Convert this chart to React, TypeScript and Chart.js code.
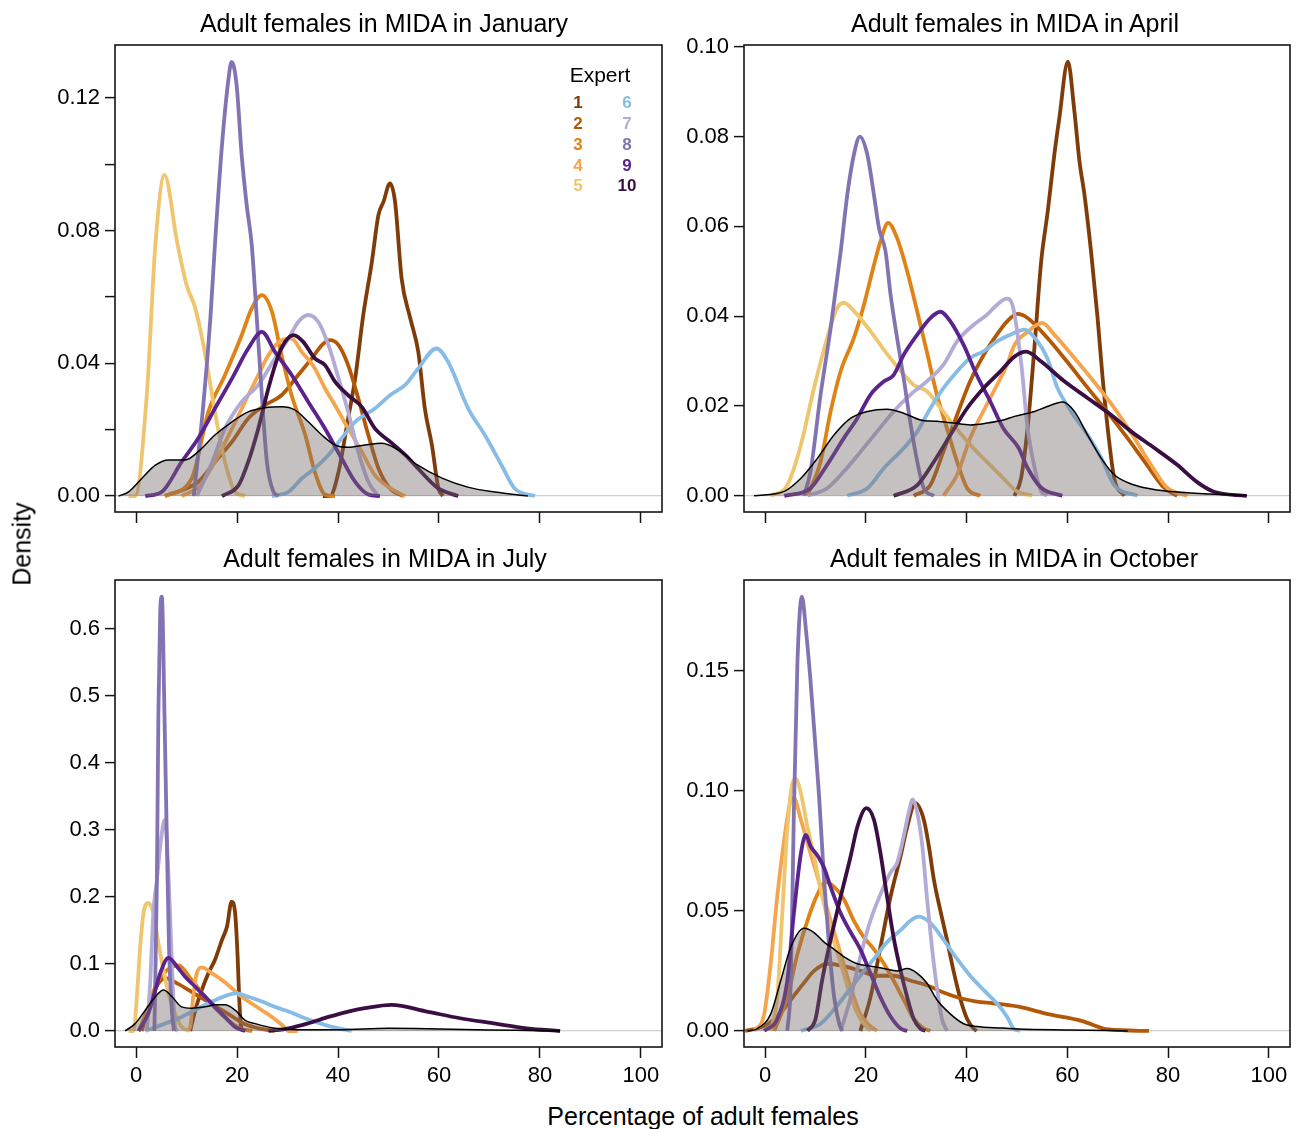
import React, { useEffect, useRef } from "react";
import { Chart, registerables } from "chart.js";

Chart.register(...registerables);

type Pt = [number, number];

const FONT = '"Liberation Sans", Arial, Helvetica, sans-serif';

// ---------------- data ----------------
const experts = ["1", "2", "3", "4", "5", "6", "7", "8", "9", "10"];
const expertColors = ["#7f3b08", "#b35806", "#e08214", "#f5a54e", "#efc56e", "#86bce6", "#b3abd5", "#8274b3", "#5b238c", "#3a0e43"];
const panelTitles = [
  "Adult females in MIDA in January",
  "Adult females in MIDA in April",
  "Adult females in MIDA in July",
  "Adult females in MIDA in October",
];
const xTicks = [0, 20, 40, 60, 80, 100];
const janYTicks = [0, 0.02, 0.04, 0.06, 0.08, 0.1, 0.12];
const janYLabels = [0, 0.04, 0.08, 0.12];
const aprYTicks = [0, 0.02, 0.04, 0.06, 0.08, 0.1];
const aprYLabels = [0, 0.02, 0.04, 0.06, 0.08, 0.1];
const julYTicks = [0, 0.1, 0.2, 0.3, 0.4, 0.5, 0.6];
const julYLabels = [0, 0.1, 0.2, 0.3, 0.4, 0.5, 0.6];
const octYTicks = [0, 0.05, 0.1, 0.15];
const octYLabels = [0, 0.05, 0.1, 0.15];

// January
const jan1: Pt[] = [[37,0],[38.4,0],[40.1,0.0073],[42.0,0.0234],[43.4,0.0355],[45.0,0.0546],[46.7,0.0706],[48.0,0.0847],[49.0,0.0887],[50.3,0.0943],[51.3,0.0887],[52.6,0.0656],[54.3,0.0537],[55.9,0.0435],[57.2,0.0264],[58.6,0.0154],[59.9,0.0023],[60.8,0]];
const jan2: Pt[] = [[5.7,0],[12.3,0.0043],[15.6,0.0103],[19.0,0.0164],[22.2,0.0234],[25.5,0.0274],[28.8,0.0304],[32.1,0.0365],[34.8,0.0415],[36.8,0.0455],[38.4,0.047],[40.1,0.0455],[42.0,0.0395],[44.0,0.0295],[46.0,0.0184],[48.0,0.0084],[50.3,0.0023],[53,0]];
const jan3: Pt[] = [[5.7,0],[11.0,0.0053],[14.3,0.0254],[17.6,0.0365],[20.9,0.0485],[22.9,0.0566],[24.9,0.0606],[26.9,0.0556],[28.8,0.0425],[30.8,0.0304],[33.5,0.0184],[35.4,0.0073],[37.4,0.0005],[39.4,0]];
const jan4: Pt[] = [[9.0,0],[12.5,0.003],[15.6,0.0103],[19.0,0.0204],[22.2,0.0304],[24.2,0.0365],[26.2,0.0425],[28.8,0.047],[30.8,0.0475],[32.8,0.0435],[35.4,0.0385],[37.4,0.0325],[39.4,0.0274],[42.0,0.0204],[44.7,0.0134],[47.3,0.0063],[50.3,0.0024],[53.3,0]];
const jan5: Pt[] = [[-1.5,0],[-0.2,0],[2.1,0.0305],[3.8,0.0757],[5.6,0.0968],[8.1,0.0767],[10.0,0.0636],[11.7,0.0567],[13.7,0.0425],[15.6,0.0254],[17.6,0.0103],[19.6,0.0013],[21.6,0]];
const jan6: Pt[] = [[26.9,0],[30.2,0.0013],[32.8,0.0053],[35.4,0.0084],[38.1,0.0124],[40.7,0.0174],[43.4,0.0224],[47.3,0.0264],[50.3,0.0304],[53.3,0.0335],[55.9,0.0385],[59.5,0.0445],[61.8,0.0405],[65.8,0.0264],[69.1,0.0184],[72.4,0.0093],[75.0,0.0023],[79.0,0]];
const jan7: Pt[] = [[12.0,0],[15.0,0.01],[17.6,0.0204],[20.9,0.0284],[24.2,0.0335],[27.5,0.0415],[30.2,0.0475],[32.1,0.0525],[34.1,0.0546],[36.1,0.0525],[38.1,0.0455],[40.1,0.0355],[42.0,0.0254],[44.0,0.0134],[46.0,0.0043],[48.0,0]];
const jan8: Pt[] = [[11.4,0],[13.3,0.0274],[14.7,0.0536],[15.6,0.0757],[17.0,0.1058],[18.3,0.1259],[18.9,0.1309],[19.9,0.1239],[20.9,0.1028],[21.9,0.0877],[22.9,0.0757],[23.6,0.0606],[24.9,0.0304],[25.9,0.0103],[27.2,0.0013],[28.2,0]];
const jan9: Pt[] = [[1.8,0],[5.1,0.0013],[9.0,0.0103],[12.3,0.0174],[15.6,0.0264],[19.0,0.0355],[22.2,0.0445],[24.9,0.0495],[27.5,0.0435],[30.8,0.0365],[34.1,0.0284],[37.4,0.0204],[40.7,0.0114],[43.4,0.0043],[46.0,0.0005],[48.3,0]];
const jan10: Pt[] = [[17.0,0],[20.3,0.0033],[22.2,0.0103],[24.2,0.0204],[26.2,0.0325],[28.2,0.0425],[29.5,0.0465],[31.2,0.0485],[33.1,0.0465],[35.4,0.0415],[37.4,0.0395],[39.4,0.0345],[42.0,0.0304],[44.7,0.0269],[47.3,0.0204],[50.3,0.0164],[53.3,0.0124],[55.8,0.0084],[59.8,0.0024],[63.8,0]];
const janAll: Pt[] = [[-3.5,0],[-1.5,0.0013],[1.1,0.0053],[3.8,0.0093],[6.4,0.0109],[9.7,0.0109],[12.3,0.0134],[15.6,0.0184],[19.0,0.0224],[22.2,0.0254],[25.5,0.0266],[28.8,0.0269],[31.5,0.0259],[34.1,0.0224],[36.8,0.0184],[39.4,0.0154],[42.0,0.0147],[45.3,0.0154],[48.7,0.0159],[51.9,0.0139],[55.8,0.0093],[60.6,0.0054],[65.7,0.0027],[71.1,0.0012],[77.6,0]];

// April
const apr1: Pt[] = [[49.5,0],[50.8,0.0039],[52.1,0.0151],[53.5,0.0336],[54.8,0.0522],[56.1,0.0633],[57.4,0.0759],[58.4,0.0841],[60.1,0.0967],[61.4,0.0856],[62.4,0.0745],[63.4,0.067],[64.7,0.0544],[66.0,0.0396],[67.0,0.0262],[68.0,0.0151],[69.3,0.0039],[71.3,0]];
const apr2: Pt[] = [[29.5,0],[32.8,0.0024],[35.4,0.0099],[38.1,0.018],[40.7,0.0255],[43.4,0.0314],[46.0,0.0359],[48.0,0.0388],[50.1,0.0405],[52.1,0.0396],[56.0,0.0352],[60.0,0.0298],[64.0,0.0241],[67.9,0.0187],[71.9,0.0129],[75.8,0.0069],[79.2,0.0018],[81.8,0]];
const apr3: Pt[] = [[8.4,0],[11.0,0.0076],[13.0,0.0188],[15.0,0.0278],[17.6,0.0351],[19.6,0.0425],[21.6,0.0514],[22.9,0.0567],[24.4,0.0608],[26.2,0.0574],[28.2,0.05],[30.2,0.041],[32.1,0.0321],[34.1,0.0225],[36.1,0.015],[38.1,0.0076],[40.1,0.0017],[42.7,0]];
const apr4: Pt[] = [[35.4,0],[38.1,0.0047],[40.7,0.0128],[44.7,0.0218],[48.0,0.0292],[49.5,0.0336],[52.1,0.0365],[55.0,0.0385],[57.4,0.0359],[61.4,0.0307],[65.3,0.0254],[69.3,0.0196],[73.3,0.0129],[76.6,0.0069],[79.8,0.0018],[83.8,0]];
const apr5: Pt[] = [[1.1,0],[4.4,0.0024],[7.1,0.0114],[9.7,0.024],[12.3,0.0351],[14.3,0.0418],[15.6,0.043],[17.6,0.0412],[20.9,0.0367],[24.2,0.0316],[26.9,0.0278],[29.5,0.0247],[32.1,0.0233],[34.8,0.0196],[37.4,0.0158],[40.7,0.0114],[44.0,0.0076],[47.3,0.0039],[50.0,0.001],[53,0]];
const apr6: Pt[] = [[16.3,0],[20.3,0.0017],[23.6,0.0062],[26.9,0.0099],[30.2,0.0143],[32.8,0.0195],[35.4,0.024],[38.1,0.0277],[40.7,0.0307],[43.4,0.0322],[46.0,0.0344],[48.7,0.0359],[51.5,0.037],[53.5,0.0352],[56.0,0.0307],[58.0,0.0241],[60.8,0.0187],[64.0,0.0136],[66.7,0.0085],[69.3,0.0024],[73.9,0]];
const apr7: Pt[] = [[8.4,0],[12.3,0.0017],[15.6,0.0054],[19.0,0.0099],[22.2,0.0143],[25.5,0.0188],[28.8,0.0225],[32.1,0.0255],[35.4,0.0292],[38.1,0.0344],[41.4,0.0381],[44.0,0.0403],[46.0,0.0425],[48.0,0.0439],[49.1,0.0425],[50.8,0.0299],[52.1,0.0151],[53.5,0.0062],[54.8,0.001],[56.0,0]];
const apr8: Pt[] = [[7.7,0],[9.0,0.0054],[11.0,0.0225],[13.0,0.0373],[15.0,0.0544],[16.3,0.067],[17.6,0.0759],[18.8,0.08],[20.3,0.0759],[21.6,0.067],[22.6,0.0596],[23.9,0.0544],[24.9,0.0448],[26.2,0.0351],[27.5,0.0262],[28.8,0.0165],[30.2,0.0076],[31.5,0.0017],[33.5,0]];
const apr9: Pt[] = [[3.8,0],[9.0,0.0017],[12.3,0.0069],[15.6,0.0128],[18.3,0.0173],[20.9,0.0225],[23.6,0.0255],[25.5,0.0269],[27.5,0.0314],[30.2,0.0359],[32.8,0.0396],[34.8,0.041],[36.8,0.0388],[39.4,0.0336],[42.0,0.0269],[44.7,0.021],[47.3,0.015],[50.3,0.0107],[52.1,0.0062],[54.8,0.0018],[59.0,0]];
const apr10: Pt[] = [[25.5,0],[30.2,0.0024],[33.5,0.0076],[36.8,0.0136],[40.1,0.0195],[43.4,0.024],[46.7,0.0277],[49.5,0.031],[51.8,0.0321],[54.8,0.0299],[59.4,0.0255],[64.0,0.0218],[68.7,0.018],[72.7,0.0143],[77.2,0.0107],[81.8,0.0069],[85.7,0.0031],[89.1,0.0009],[95.6,0]];
const aprAll: Pt[] = [[-2.2,0],[3.8,0.001],[7.1,0.0039],[10.4,0.0084],[13.7,0.0136],[17.0,0.0173],[20.3,0.0188],[24.2,0.0193],[27.5,0.0184],[30.8,0.0169],[34.1,0.0166],[37.4,0.0162],[40.7,0.0158],[44.0,0.0162],[47.3,0.0169],[49.5,0.0177],[53.5,0.0188],[56.0,0.0199],[59.1,0.0209],[61.4,0.0188],[64.0,0.0136],[66.7,0.0084],[69.3,0.0047],[73.3,0.0024],[77.8,0.0013],[83.8,0.0007],[95.6,0]];

// July
const jul1: Pt[] = [[10.7,0],[11.7,0.031],[13.0,0.061],[14.3,0.086],[15.6,0.106],[17.0,0.136],[18.0,0.156],[18.9,0.193],[19.6,0.176],[20.1,0.111],[20.4,0.051],[20.8,0.006],[21.3,0]];
const jul2: Pt[] = [[1.1,0],[3.1,0.051],[4.4,0.071],[5.7,0.079],[8.4,0.07],[11.7,0.055],[15.0,0.04],[18.3,0.025],[21.6,0.01],[24.9,0.003],[27.5,0]];
const jul3: Pt[] = [[0.5,0],[2.4,0.035],[4.0,0.07],[6.0,0.09],[8.4,0.098],[11.0,0.076],[14.3,0.045],[17.6,0.02],[20.9,0.003],[23,0]];
const jul4: Pt[] = [[10.0,0],[10.7,0.006],[11.3,0.051],[12.0,0.086],[13.0,0.095],[15.0,0.086],[17.0,0.076],[18.9,0.064],[20.9,0.051],[22.9,0.041],[24.9,0.031],[26.9,0.021],[28.9,0.009],[30.2,0],[32,0]];
const jul5: Pt[] = [[-1.5,0],[-0.5,0],[0.13,0.051],[0.8,0.126],[1.45,0.176],[2.4,0.191],[3.4,0.176],[4.4,0.131],[5.4,0.091],[6.4,0.056],[7.7,0.026],[9.0,0.006],[10.4,0]];
const jul6: Pt[] = [[1.8,0],[5.7,0.011],[9.0,0.021],[12.3,0.034],[15.6,0.046],[18.3,0.054],[19.9,0.056],[22.2,0.051],[24.9,0.044],[27.5,0.036],[30.2,0.029],[32.8,0.021],[35.4,0.014],[38.8,0.006],[42.7,0]];
const jul7: Pt[] = [[2.1,0],[2.8,0.076],[3.4,0.176],[4.1,0.225],[4.75,0.275],[5.4,0.31],[5.7,0.315],[6.3,0.25],[6.7,0.176],[7.2,0.076],[7.7,0.006],[8.2,0]];
const jul8: Pt[] = [[3.6,0],[4.1,0.225],[4.4,0.474],[4.75,0.623],[5.08,0.648],[5.6,0.474],[6.1,0.275],[6.5,0.126],[7.1,0.026],[7.5,0]];
const jul9: Pt[] = [[0.46,0],[2.4,0.026],[3.8,0.061],[4.75,0.086],[6.4,0.109],[8.1,0.096],[9.7,0.081],[11.7,0.066],[13.7,0.051],[15.6,0.036],[17.6,0.021],[19.6,0.006],[21.6,0]];
const jul10: Pt[] = [[26.2,0],[30.2,0.004],[34.1,0.0115],[38.1,0.021],[42.0,0.029],[45.3,0.034],[50.6,0.039],[57.6,0.029],[64.2,0.019],[70.8,0.0115],[77.4,0.004],[84.0,0]];
const julAll: Pt[] = [[-2.2,0],[-0.2,0.011],[1.8,0.031],[3.8,0.051],[5.4,0.061],[7.1,0.051],[9.0,0.036],[11.0,0.034],[13.7,0.036],[15.6,0.039],[17.6,0.039],[19.6,0.031],[21.6,0.016],[23.6,0.011],[27.5,0.004],[32,0.002],[40,0.002],[50,0.004],[60,0.003],[70,0.0015],[80,0.0005],[84,0]];

// October
const oct1: Pt[] = [[18.9,0],[20.9,0.014],[22.9,0.035],[24.9,0.056],[26.9,0.073],[28.2,0.085],[29.8,0.0949],[31.5,0.088],[32.5,0.077],[33.5,0.063],[34.8,0.05],[36.1,0.038],[37.4,0.025],[38.8,0.013],[40.1,0.005],[41.4,0.001],[42.0,0]];
const oct2: Pt[] = [[-4,0],[-0.2,0.002],[2.4,0.006],[5.1,0.013],[7.7,0.02],[9.7,0.025],[12.3,0.028],[15.6,0.027],[18.9,0.025],[22.2,0.023],[25.5,0.023],[28.8,0.021],[32.1,0.019],[35.4,0.016],[38.8,0.0136],[42.0,0.0122],[45.3,0.0115],[50.3,0.0101],[56.2,0.007],[62.8,0.0042],[68.2,0.0006],[76.2,0]];
const oct3: Pt[] = [[1.8,0],[4.4,0.014],[6.4,0.032],[8.4,0.046],[10.4,0.057],[12.0,0.062],[13.7,0.06],[15.6,0.055],[17.6,0.046],[19.6,0.039],[21.6,0.034],[23.6,0.028],[25.5,0.021],[27.5,0.013],[29.5,0.005],[31.5,0.001],[32.8,0]];
const oct4: Pt[] = [[-2.2,0],[-0.2,0.007],[1.1,0.028],[2.4,0.056],[3.8,0.08],[5.1,0.096],[5.7,0.097],[7.1,0.088],[9.0,0.074],[11.0,0.06],[13.0,0.046],[15.0,0.032],[17.0,0.018],[18.9,0.007],[20.9,0.002],[22.2,0]];
const oct5: Pt[] = [[1.1,0],[2.4,0.014],[3.4,0.049],[4.4,0.084],[5.4,0.103],[6.1,0.105],[7.1,0.099],[8.4,0.085],[9.7,0.073],[11.0,0.059],[13.0,0.042],[15.0,0.028],[17.0,0.014],[18.9,0.005],[20.9,0]];
const oct6: Pt[] = [[7.1,0],[11.0,0.003],[13.7,0.009],[16.3,0.016],[18.9,0.023],[21.6,0.03],[24.2,0.037],[26.9,0.042],[28.9,0.046],[30.5,0.0476],[32.8,0.045],[35.4,0.038],[38.1,0.03],[40.7,0.023],[43.4,0.017],[46.0,0.0115],[48.0,0.006],[49.3,0.001],[50.6,0]];
const oct7: Pt[] = [[15.0,0],[17.0,0.014],[18.9,0.031],[20.9,0.046],[22.9,0.057],[24.9,0.066],[26.2,0.07],[27.5,0.081],[28.5,0.091],[29.3,0.0965],[30.2,0.091],[31.2,0.077],[32.1,0.056],[33.1,0.035],[34.1,0.018],[35.1,0.005],[36.1,0]];
const oct8: Pt[] = [[4.4,0],[5.1,0.021],[5.7,0.091],[6.4,0.153],[7.3,0.181],[8.1,0.167],[9.0,0.146],[10.0,0.118],[10.7,0.098],[11.7,0.063],[12.7,0.035],[13.7,0.014],[14.7,0.003],[15.3,0]];
const oct9: Pt[] = [[-0.2,0],[2.4,0.005],[4.4,0.021],[5.7,0.049],[7.1,0.074],[8.1,0.0817],[9.0,0.077],[10.4,0.073],[11.7,0.068],[13.0,0.06],[15.0,0.049],[17.0,0.041],[18.9,0.034],[20.9,0.024],[22.9,0.014],[24.9,0.006],[26.9,0.001],[28.2,0]];
const oct10: Pt[] = [[8.4,0],[10.0,0.005],[11.3,0.021],[13.0,0.038],[15.0,0.056],[17.0,0.073],[18.3,0.085],[20.1,0.0928],[21.6,0.088],[22.9,0.074],[24.2,0.056],[25.5,0.039],[26.9,0.025],[28.2,0.014],[29.5,0.005],[30.8,0.001],[31.8,0]];
const octAll: Pt[] = [[-3.5,0],[-1.5,0.001],[1.1,0.007],[3.1,0.021],[5.1,0.035],[7.7,0.0428],[9.7,0.041],[11.7,0.037],[13.7,0.034],[15.6,0.031],[18.3,0.028],[20.9,0.027],[23.6,0.026],[26.2,0.025],[28.2,0.026],[30.2,0.024],[32.1,0.02],[34.1,0.013],[36.8,0.007],[39.4,0.003],[42.0,0.0018],[47.3,0.0012],[50.3,0.0008],[60,0.0004],[72,0]];

// ---------------- chart helpers ----------------
const boxPlugin = {
  id: "panelBox",
  afterDatasetsDraw(chart: any) {
    const { ctx, chartArea: a } = chart;
    ctx.save();
    ctx.strokeStyle = "#141414";
    ctx.lineWidth = 1.6;
    ctx.strokeRect(a.left, a.top, a.right - a.left, a.bottom - a.top);
    ctx.restore();
  },
};

type PanelDef = {
  curves: Pt[][];
  agg: Pt[];
  yMin: number;
  yMax: number;
  yTicks: number[];
  yLabels: number[];
  decimals: number;
  showX: boolean;
  left: number;
  top: number;
  width: number;
  height: number;
  yAxisW: number;
  xAxisH: number;
  padRight: number;
};

function Panel({ def }: { def: PanelDef }) {
  const ref = useRef<HTMLCanvasElement | null>(null);
  useEffect(() => {
    const canvas = ref.current;
    if (!canvas) return;
    const toXY = (pts: Pt[]) => pts.map(([x, y]) => ({ x, y }));
    const expertSets = def.curves
      .map((pts, i) => ({
        label: "Expert " + experts[i],
        data: toXY(pts),
        borderColor: expertColors[i],
        backgroundColor: expertColors[i],
        borderWidth: 3.8,
        pointRadius: 0,
        fill: false,
        tension: 0.4,
        cubicInterpolationMode: "monotone" as const,
      }))
      .reverse();
    const agg = {
      label: "Combined",
      data: toXY(def.agg),
      borderColor: "#000000",
      borderWidth: 1.5,
      backgroundColor: "rgba(120,108,108,0.42)",
      fill: "origin" as const,
      pointRadius: 0,
      tension: 0.4,
      cubicInterpolationMode: "monotone" as const,
    };
    const chart = new Chart(canvas, {
      type: "line",
      data: { datasets: [agg, ...expertSets] as any },
      options: {
        responsive: false,
        animation: false,
        events: [],
        layout: { padding: { left: 0, top: 10, right: def.padRight, bottom: 0 } },
        plugins: { legend: { display: false }, tooltip: { enabled: false }, title: { display: false } },
        scales: {
          x: {
            type: "linear",
            min: -4.2,
            max: 104.2,
            afterBuildTicks: (s: any) => {
              s.ticks = xTicks.map((v) => ({ value: v }));
            },
            afterFit: (s: any) => {
              s.height = def.xAxisH;
              s.paddingLeft = 0;
              s.paddingRight = 0;
              s.paddingTop = 0;
              s.paddingBottom = 0;
            },
            border: { display: false },
            grid: {
              drawOnChartArea: false,
              drawTicks: true,
              tickLength: 11,
              tickColor: "#141414",
              tickWidth: 1.5,
              color: "rgba(0,0,0,0)",
            },
            ticks: {
              autoSkip: false,
              maxRotation: 0,
              padding: 5,
              color: "#000",
              font: { family: FONT, size: 22 },
              callback: (v: any) => (def.showX ? String(v) : ""),
            },
          },
          y: {
            type: "linear",
            min: def.yMin,
            max: def.yMax,
            afterBuildTicks: (s: any) => {
              s.ticks = def.yTicks.map((v) => ({ value: v }));
            },
            afterFit: (s: any) => {
              s.width = def.yAxisW;
              s.paddingLeft = 0;
              s.paddingRight = 0;
              s.paddingTop = 0;
              s.paddingBottom = 0;
            },
            border: { display: false },
            grid: {
              drawOnChartArea: true,
              drawTicks: true,
              tickLength: 10,
              tickColor: "#141414",
              tickWidth: 1.5,
              lineWidth: 1.2,
              color: (c: any) => (c.tick && Math.abs(c.tick.value) < 1e-12 ? "#cfcfcf" : "rgba(0,0,0,0)"),
            },
            ticks: {
              autoSkip: false,
              padding: 5,
              color: "#000",
              font: { family: FONT, size: 22 },
              callback: (v: any) => {
                const n = Number(v);
                return def.yLabels.some((l) => Math.abs(l - n) < 1e-9) ? n.toFixed(def.decimals) : "";
              },
            },
          },
        },
      } as any,
      plugins: [boxPlugin],
    });
    return () => chart.destroy();
  }, []);
  return (
    <canvas
      ref={ref}
      width={def.width}
      height={def.height}
      style={{ position: "absolute", left: def.left, top: def.top, width: def.width, height: def.height }}
    />
  );
}

const panels: PanelDef[] = [
  { curves: [jan1, jan2, jan3, jan4, jan5, jan6, jan7, jan8, jan9, jan10], agg: janAll, yMin: -0.0048, yMax: 0.136, yTicks: janYTicks, yLabels: janYLabels, decimals: 2, showX: false, left: 0, top: 35, width: 680, height: 495, yAxisW: 115, xAxisH: 18, padRight: 18 },
  { curves: [apr1, apr2, apr3, apr4, apr5, apr6, apr7, apr8, apr9, apr10], agg: aprAll, yMin: -0.0036, yMax: 0.1004, yTicks: aprYTicks, yLabels: aprYLabels, decimals: 2, showX: false, left: 670, top: 35, width: 626, height: 495, yAxisW: 74, xAxisH: 18, padRight: 6 },
  { curves: [jul1, jul2, jul3, jul4, jul5, jul6, jul7, jul8, jul9, jul10], agg: julAll, yMin: -0.0239, yMax: 0.673, yTicks: julYTicks, yLabels: julYLabels, decimals: 1, showX: true, left: 0, top: 570, width: 680, height: 530, yAxisW: 115, xAxisH: 53, padRight: 18 },
  { curves: [oct1, oct2, oct3, oct4, oct5, oct6, oct7, oct8, oct9, oct10], agg: octAll, yMin: -0.0067, yMax: 0.1879, yTicks: octYTicks, yLabels: octYLabels, decimals: 2, showX: true, left: 670, top: 570, width: 626, height: 530, yAxisW: 74, xAxisH: 53, padRight: 6 },
];

const titlePos = [
  { x: 384, y: 23 },
  { x: 1015, y: 23 },
  { x: 385, y: 558 },
  { x: 1014, y: 558 },
];

function Label({ x, y, text, size, bold, color, rotate }: { x: number; y: number; text: string; size: number; bold?: boolean; color?: string; rotate?: boolean }) {
  return (
    <div
      style={{
        position: "absolute",
        left: x,
        top: y,
        transform: "translate(-50%, -50%)" + (rotate ? " rotate(-90deg)" : ""),
        fontFamily: FONT,
        fontSize: size,
        lineHeight: 1,
        fontWeight: bold ? 700 : 400,
        color: color || "#000",
        whiteSpace: "nowrap",
      }}
    >
      {text}
    </div>
  );
}

export default function App() {
  const legendRows = [102, 123, 143.5, 164.5, 185];
  return (
    <div style={{ position: "absolute", left: 0, top: 0, width: 1296, height: 1129, background: "#fff", overflow: "hidden" }}>
      {panels.map((p, i) => (
        <Panel key={i} def={p} />
      ))}
      {panelTitles.map((t, i) => (
        <Label key={"t" + i} x={titlePos[i].x} y={titlePos[i].y} text={t} size={25} />
      ))}
      <Label x={22} y={544} text="Density" size={25} rotate />
      <Label x={703} y={1116} text="Percentage of adult females" size={25} />
      <Label x={600} y={74} text="Expert" size={21} />
      {experts.map((e, i) => (
        <Label
          key={"e" + i}
          x={i < 5 ? 578 : 627}
          y={legendRows[i % 5]}
          text={e}
          size={17}
          bold
          color={expertColors[i]}
        />
      ))}
    </div>
  );
}
